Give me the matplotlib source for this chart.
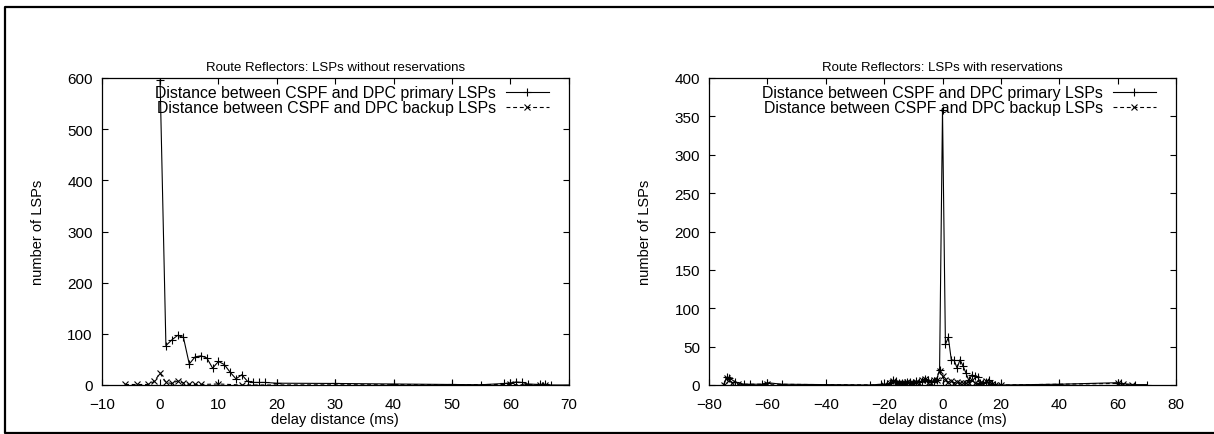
import numpy as np
import matplotlib
matplotlib.use('Agg')
import matplotlib.pyplot as plt
from matplotlib.lines import Line2D

plt.rcParams['font.family'] = ['Liberation Sans', 'DejaVu Sans']
plt.rcParams['font.size'] = 11

# left panel: LSPs without reservations
left_primary_x = [0, 1, 2, 3, 4, 5, 6, 7, 8, 9, 10, 11, 12, 13, 14, 15, 16, 17, 18,
                  20, 30, 40, 50, 55, 59, 60, 61, 62, 63, 65, 66, 67, 70]
left_primary_y = [596, 77, 88, 97, 93, 41, 55, 57, 53, 33, 46, 40, 25, 12, 20, 7, 5, 5, 5,
                  3.5, 3, 2, 1, 0.5, 3, 4, 6, 5, 2, 1, 1, 0, 0]
left_backup_x = [-6, -4, -2, -1, 0, 1, 2, 3, 4, 5, 6, 7, 10, 14, 60, 65, 66]
left_backup_y = [1, 1, 1, 7, 23, 5, 3, 8, 4, 1, 1, 1, 2, 0, 1, 0, 0]

# right panel: LSPs with reservations
right_primary_x = [-75, -74, -73, -71, -68, -66, -62, -60, -55, -25, -21, -19, -18, -17,
                   -16, -15, -14, -13, -12, -11, -10, -9, -8, -7, -6, -5, -4, -3, -2, -1,
                   0, 1, 2, 3, 4, 5, 6, 7, 8, 9, 10, 11, 12, 13, 14, 15, 16, 17, 18, 20,
                   40, 60, 61, 66, 70]
right_primary_y = [0, 10, 9, 4, 1, 1, 1, 3, 1, 0, 1, 1, 2, 6,
                   5, 3, 3, 3, 4, 4, 3, 5, 4, 5, 8, 6, 4, 5, 7, 20,
                   358, 53, 62, 33, 32, 22, 33, 25, 16, 6, 13, 12, 11, 3, 3, 4, 6, 1, 0.5, 0,
                   1, 3, 2, 0.5, 0.5]
right_backup_x = [-75, -74, -73, -72, -70, -60, -20, -18, -17, -16, -15, -14, -13, -12,
                  -11, -10, -9, -8, -7, -6, -5, -4, -3, -2, -1, 0, 1, 2, 3, 4, 5, 6, 7,
                  8, 9, 10, 11, 12, 13, 14, 15, 16, 17, 18, 20, 60, 62, 65]
right_backup_y = [0, 9, 7, 3, 1, 1, 0, 2, 5, 3, 2, 3, 2, 4,
                  3, 2, 4, 3, 6, 8, 3, 2, 6, 7, 18, 12, 6, 4, 5, 3, 4, 2, 3,
                  2, 3, 6, 2, 1, 2, 1, 5, 3, 1, 0, 0, 2, 1, 0]

label_primary = 'Distance between CSPF and DPC primary LSPs'
label_backup = 'Distance between CSPF and DPC backup LSPs'

W, H = 1214, 435
fig = plt.figure(figsize=(W / 100, H / 100), dpi=100)

ax_w, ax_h = 467, 307
ax_top = 79
ax1 = fig.add_axes([101.7 / W, 1 - (ax_top + ax_h) / H, ax_w / W, ax_h / H])
ax2 = fig.add_axes([709 / W, 1 - (ax_top + ax_h) / H, ax_w / W, ax_h / H])


def draw(ax, px, py, bx, by, title, xlim, xticks, ylim, yticks):
    ax.plot(px, py, color='black', lw=0.8, marker='+', ms=5.5, mew=0.8, label=label_primary)
    ax.plot(bx, by, color='black', lw=0.8, ls=(0, (3.5, 2.5)), marker='x', ms=4.5, mew=0.8,
            label=label_backup)
    ax.set_xlim(*xlim)
    ax.set_ylim(*ylim)
    ax.set_xticks(xticks)
    ax.set_yticks(yticks)
    ax.tick_params(direction='in', length=4.5, width=0.8, top=True, right=True, labelsize=11)
    ax.tick_params(axis='x', pad=9)
    ax.tick_params(axis='y', pad=6.5)
    for s in ax.spines.values():
        s.set_linewidth(0.9)
    ax.set_title(title, pad=6, fontsize=9.5)
    ax.set_xlabel('delay distance (ms)', fontsize=10.5)
    ax.set_ylabel('number of LSPs', fontsize=10.5)
    ax.xaxis.set_label_coords(0.5, -0.088)
    ax.yaxis.set_label_coords(-0.121, 0.5)
    ax.legend(loc='upper right', bbox_to_anchor=(1 - 20 / ax_w, 1 - 7.5 / ax_h),
              frameon=False, markerfirst=False, borderpad=0, borderaxespad=0,
              fontsize=11.4, handlelength=2.72, handletextpad=0.63, labelspacing=0.0)


draw(ax1, left_primary_x, left_primary_y, left_backup_x, left_backup_y,
     'Route Reflectors: LSPs without reservations',
     (-10, 70), range(-10, 71, 10), (0, 600), range(0, 601, 100))
draw(ax2, right_primary_x, right_primary_y, right_backup_x, right_backup_y,
     'Route Reflectors: LSPs with reservations',
     (-80, 80), range(-80, 81, 20), (0, 400), range(0, 401, 50))

# outer frame (top, left, bottom)
fx0, fy0, fy1 = 4.5 / W, 1 - 433.5 / H, 1 - 8 / H
fig.add_artist(Line2D([1.01, fx0, fx0, 1.01], [fy1, fy1, fy0, fy0],
                      transform=fig.transFigure, color='black', lw=1.6))

fig.savefig('out.png', dpi=100)
